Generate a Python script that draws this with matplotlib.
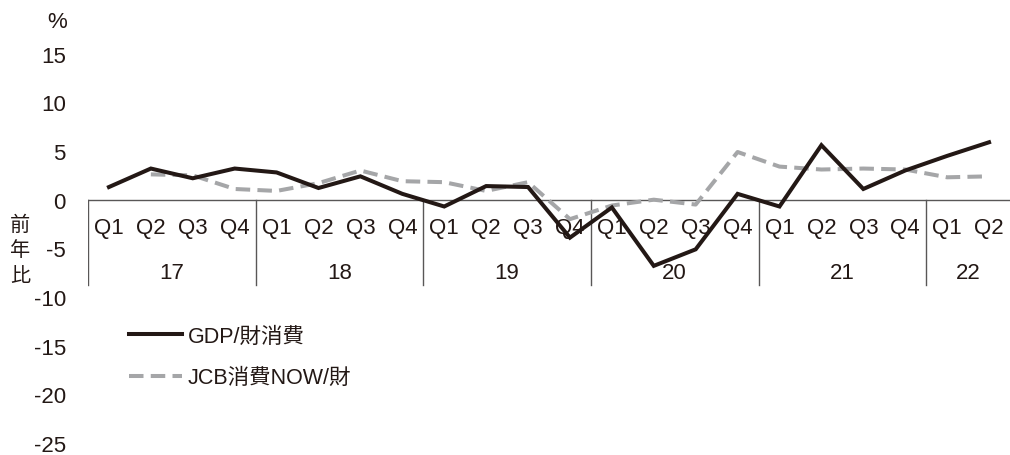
import matplotlib
matplotlib.use("Agg")
import matplotlib.pyplot as plt
from matplotlib.lines import Line2D

years = ["17", "18", "19", "20", "21", "22"]
quarters_per_year = [4, 4, 4, 4, 4, 2]
quarter_names = ["Q1", "Q2", "Q3", "Q4"]

gdp = [1.3, 3.2, 2.2, 3.2, 2.8, 1.2, 2.4, 0.6, -0.7, 1.4, 1.3, -3.9,
       -0.8, -6.8, -5.1, 0.6, -0.7, 5.6, 1.1, 3.0, 4.5, 5.9]
jcb = [None, 2.6, 2.5, 1.1, 0.9, 1.7, 3.0, 1.9, 1.8, 0.9, 1.8, -2.0,
       -0.6, 0.0, -0.5, 4.9, 3.4, 3.1, 3.2, 3.1, 2.3, 2.4]
series_names = ["GDP/財消費", "JCB消費NOW/財"]
yticks = [15, 10, 5, 0, -5, -10, -15, -20, -25]

FONT = ["Liberation Sans", "Noto Sans CJK JP", "DejaVu Sans"]
plt.rcParams["font.family"] = FONT

BLACK = "#231815"
GRAY = "#a5a6a8"
AXC = "#595757"
TXT = "#231815"

fig = plt.figure(figsize=(10.10, 4.56), dpi=100)
top_px, bot_px = 54.7, 444.0
ax = fig.add_axes([88 / 1010, 1 - bot_px / 456, 922 / 1010, (bot_px - top_px) / 456])

n = len(gdp)
x = list(range(n))
ax.plot(x, gdp, color=BLACK, lw=2.9, solid_joinstyle="miter", zorder=4)
xj = [i for i, v in enumerate(jcb) if v is not None]
yj = [v for v in jcb if v is not None]
ax.plot(xj, yj, color=GRAY, lw=2.9, dashes=(3.6, 1.8), zorder=3)

ax.set_xlim(-0.5, n - 0.5)
ax.set_ylim(-25, 15)
ax.set_yticks(yticks)
ax.set_yticklabels([str(t) for t in yticks], fontsize=16, color=TXT)
ax.tick_params(axis="y", length=0, pad=16)
ax.set_xticks([])
for s in ax.spines.values():
    s.set_visible(False)

# zero axis line
ax.axhline(0, color=AXC, lw=1.0, zorder=2)

# category labels
pos = 0
sep_bottom = -8.8
ax.plot([-0.5, -0.5], [0, sep_bottom], color=AXC, lw=1.0)
for yr, nq in zip(years, quarters_per_year):
    for q in range(nq):
        ax.text(pos + q, -2.85, quarter_names[q], ha="center", va="center",
                fontsize=16, color=TXT)
    ax.text(pos + (nq - 1) / 2, -7.45, yr, ha="center", va="center",
            fontsize=16, color=TXT)
    pos += nq
    if pos < n:
        ax.plot([pos - 0.5, pos - 0.5], [0, sep_bottom], color=AXC, lw=1.0)

# unit and axis label
fig.text(57 / 1010, 1 - 22 / 456, "%", ha="center", va="center", fontsize=16,
         color=TXT)
fig.text(20 / 1010, 1 - 251 / 456, "前\n年\n比", ha="center", va="center",
         fontsize=14.5, linespacing=1.3, color=TXT,
         family=["Noto Sans CJK JP", "DejaVu Sans"])

handles = [Line2D([], [], color=BLACK, lw=2.9),
           Line2D([], [], color=GRAY, lw=2.9, dashes=(3.6, 1.8))]
leg = ax.legend(handles, series_names, loc="upper left",
                bbox_to_anchor=(129 / 1010, 1 - 327 / 456),
                bbox_transform=fig.transFigure, frameon=False, fontsize=15.5,
                handlelength=2.45, handletextpad=0.28, labelspacing=0.95,
                borderaxespad=0, borderpad=0)
for t in leg.get_texts():
    t.set_color(TXT)

fig.savefig("out.png", dpi=100)
